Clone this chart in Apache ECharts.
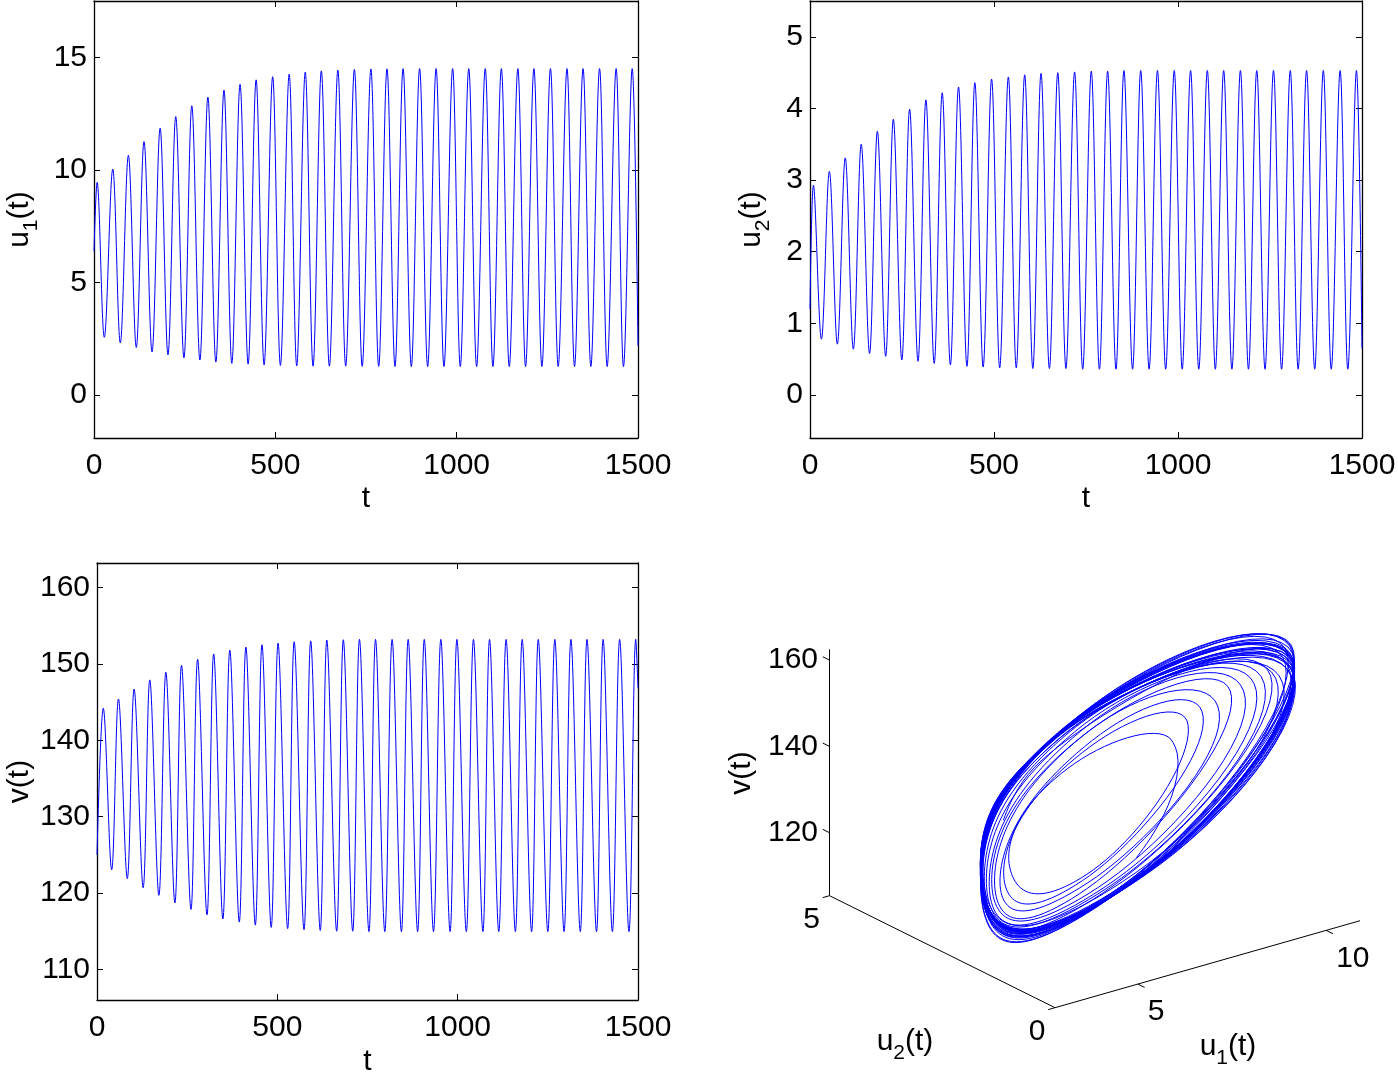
<!DOCTYPE html>
<html><head><meta charset="utf-8">
<script src="https://cdn.jsdelivr.net/npm/echarts@6/dist/echarts.min.js"></script>
<style>html,body{margin:0;padding:0;background:#fff}#c{width:1398px;height:1072px}</style>
</head><body><div id="c"></div>
<script>
// ---------- data ----------
const tTicks = [0, 500, 1000, 1500];
const u1Ticks = [0, 5, 10, 15];
const u2Ticks = [0, 1, 2, 3, 4, 5];
const vTicks = [110, 120, 130, 140, 150, 160];

// u1(t)
const u1Start = [0, 6.4];
const u1End = [1500, 2.2];
const u1PeakT = [8.6,51.7,94.8,137.9,182.3,225.4,269.7,314,358.4,402.7,447,492.6,538.2,582.5,626.8,672.4,718,763.5,807.9,852.2,897.8,943.3,988.9,1033.3,1078.8,1123.2,1168.7,1213,1258.6,1304.2,1348.5,1394,1439.7,1484];
const u1PeakV = [9.45,10.04,10.65,11.26,11.85,12.37,12.85,13.23,13.54,13.8,14.0,14.14,14.25,14.34,14.4,14.43,14.46,14.48,14.49,14.5,14.5,14.5,14.5,14.5,14.5,14.5,14.5,14.5,14.5,14.5,14.5,14.5,14.5,14.5];
const u1TroughT = [28.4,72.5,116.6,160,204,248,292,336,380,425,469,514,559,604,649,694,739.5,785,830,875,920,965,1010,1055,1100,1145,1190,1235,1280,1325,1370,1415,1460];
const u1TroughV = [2.57,2.32,2.12,1.92,1.79,1.66,1.56,1.47,1.41,1.38,1.35,1.32,1.3,1.29,1.29,1.29,1.28,1.28,1.27,1.27,1.27,1.27,1.27,1.27,1.27,1.27,1.27,1.27,1.27,1.27,1.27,1.27,1.27];

// u2(t)
const u2Start = [0, 1.2];
const u2End = [1500, 0.65];
const u2PeakT = [9.3,52.6,95.8,139.2,183.1,226.5,270.7,315,359.3,403.6,448,493.5,539,583.4,627.8,673.3,719,764.4,808.8,853.1,898.7,944.2,989.8,1034.2,1079.7,1124.1,1169.6,1214,1259.5,1305.1,1349.4,1394.9,1440.6,1484.9];
const u2PeakV = [2.93,3.12,3.31,3.5,3.68,3.85,3.99,4.12,4.22,4.3,4.36,4.41,4.44,4.47,4.49,4.5,4.51,4.52,4.52,4.53,4.53,4.53,4.53,4.53,4.53,4.53,4.53,4.53,4.53,4.53,4.53,4.53,4.53,4.53];
const u2TroughT = [31,74.3,117.8,161.8,205.6,249.5,293.5,337.5,381.5,426.5,470.5,515.5,560.5,605.5,650.5,695.5,741,786.5,831.5,876.5,921.5,966.5,1011.5,1056.5,1101.5,1146.5,1191.5,1236.5,1281.5,1326.5,1371.5,1416.5,1461.5];
const u2TroughV = [0.78,0.71,0.64,0.58,0.54,0.49,0.47,0.44,0.42,0.4,0.39,0.38,0.38,0.37,0.37,0.37,0.36,0.36,0.36,0.36,0.36,0.36,0.36,0.36,0.36,0.36,0.36,0.36,0.36,0.36,0.36,0.36,0.36];

// v(t)
const vStart = [0, 125];
const vEnd = [1500, 146.8];
const vPeakT = [17.4,59.5,102.9,146.3,190.9,234.3,278.9,323.5,368.2,412.8,457.4,502,546.7,592.5,637.2,683,727.7,772.3,818.2,862.8,907.4,953.3,997.9,1043.8,1088.4,1134.3,1178.9,1223.5,1269.4,1314,1358.6,1403.3,1449.1,1493.8];
const vPeakV = [144.2,145.4,146.7,147.9,148.9,149.8,150.6,151.3,151.8,152.2,152.5,152.7,152.9,153.0,153.1,153.15,153.2,153.2,153.2,153.2,153.2,153.2,153.2,153.2,153.2,153.2,153.2,153.2,153.2,153.2,153.2,153.2,153.2,153.2];
const vTroughT = [40.7,84,128,171.6,216,260.6,305,349,394.5,439,483,528.6,574,619,664.5,709,754,798,844,889,933,979,1024,1070,1114,1160,1205,1250,1295,1340,1385,1429,1475];
const vTroughV = [123.05,121.9,120.7,119.7,118.7,117.85,117.15,116.6,116.2,115.8,115.5,115.35,115.2,115.1,115.0,115.0,114.95,114.95,114.95,114.95,114.95,114.95,114.95,114.95,114.95,114.95,114.95,114.95,114.95,114.95,114.95,114.95,114.95];

// 3-D panel axis limits and ticks
const p3u1Lim = [2.8, 10.9];
const p3u2Lim = [0, 5];
const p3vLim = [105.4, 162.5];
const p3u1Ticks = [5, 10];
const p3u2Ticks = [0, 5];
const p3vTicks = [120, 140, 160];

// ---------- helpers ----------
function merge(start, pT, pV, tT, tV, end) {
  const pts = [start];
  pT.forEach((t, i) => pts.push([t, pV[i]]));
  tT.forEach((t, i) => pts.push([t, tV[i]]));
  pts.push(end);
  pts.sort((a, b) => a[0] - b[0]);
  return pts;
}
const u1Data = merge(u1Start, u1PeakT, u1PeakV, u1TroughT, u1TroughV, u1End);
const u2Data = merge(u2Start, u2PeakT, u2PeakV, u2TroughT, u2TroughV, u2End);
const vData = merge(vStart, vPeakT, vPeakV, vTroughT, vTroughV, vEnd);

// value of a series between its read extremes (for the phase portrait);
// logShape: sharp peaks / broad troughs as seen in the u panels
function at(pts, t, logShape) {
  let lo = 0, hi = pts.length - 1;
  while (hi - lo > 1) { const m = (lo + hi) >> 1; if (pts[m][0] <= t) lo = m; else hi = m; }
  const [t0, y0] = pts[lo], [t1, y1] = pts[hi];
  const s = Math.max(0, Math.min(1, (t - t0) / (t1 - t0)));
  const w = (1 - Math.cos(Math.PI * s)) / 2;
  if (logShape) return Math.exp(Math.log(y0) + (Math.log(y1) - Math.log(y0)) * w);
  return y0 + (y1 - y0) * w;
}

// oblique view of the 3-D axes box (screen vectors per data unit)
const VIEW = { ox: 1055, oy: 1007.7, e1: [37.66, -10.74], e2: [-45.1, -22.4], e3: [0, -4.315] };
function proj(a, b, c) {
  const da = a - p3u1Lim[0], db = b - p3u2Lim[0], dc = c - p3vLim[0];
  return [VIEW.ox + da * VIEW.e1[0] + db * VIEW.e2[0] + dc * VIEW.e3[0],
          VIEW.oy + da * VIEW.e1[1] + db * VIEW.e2[1] + dc * VIEW.e3[1]];
}

const orbit = [];
for (let t = 0; t <= 1500; t += 0.5) orbit.push(proj(at(u1Data, t, true), at(u2Data, t, true), at(vData, t, false)));

const FONT = 'Liberation Sans';
const FS = 30;
const rich = {
  a: { fontFamily: FONT, fontSize: 30, color: '#000', lineHeight: 44, verticalAlign: 'middle' },
  s: { fontFamily: FONT, fontSize: 21, color: '#000', lineHeight: 26, verticalAlign: 'bottom' }
};

function axis(kind, grid, pos, min, max, ticks, labels, name, nameGap, margin) {
  const o = {
    type: 'value', gridIndex: grid, position: pos, min: min, max: max,
    splitLine: { show: false },
    axisLine: { show: true, onZero: false, lineStyle: { color: '#000', width: 1.3 } },
    axisTick: { show: true, inside: true, length: 6, customValues: ticks, lineStyle: { color: '#000', width: 1 } },
    axisLabel: { show: labels, customValues: ticks, fontFamily: FONT, fontSize: FS, color: '#000',
                 margin: margin || (kind === 'x' ? 12 : 7), formatter: v => String(v) },
    name: name || '', nameLocation: 'middle', nameGap: nameGap || 0,
    nameTextStyle: { fontFamily: FONT, fontSize: 30, color: '#000', rich: rich }
  };
  if (kind === 'y' && name) o.nameRotate = 90;
  return o;
}

const xAxes = [
  axis('x', 0, 'bottom', 0, 1500, tTicks, true, '{a|t}', 39, 13),
  axis('x', 0, 'top', 0, 1500, tTicks, false),
  axis('x', 1, 'bottom', 0, 1500, tTicks, true, '{a|t}', 39, 13),
  axis('x', 1, 'top', 0, 1500, tTicks, false),
  axis('x', 2, 'bottom', 0, 1500, tTicks, true, '{a|t}', 40, 13),
  axis('x', 2, 'top', 0, 1500, tTicks, false),
  { type: 'value', gridIndex: 3, min: 700, max: 1398, show: false }
];
const yAxes = [
  axis('y', 0, 'left', -1.9, 17.5, u1Ticks, true, '{a|u}{s|1}{a|(t)}', 52),
  axis('y', 0, 'right', -1.9, 17.5, u1Ticks, false),
  axis('y', 1, 'left', -0.6, 5.5, u2Ticks, true, '{a|u}{s|2}{a|(t)}', 36),
  axis('y', 1, 'right', -0.6, 5.5, u2Ticks, false),
  axis('y', 2, 'left', 106, 163.2, vTicks, true, '{a|v(t)}', 55),
  axis('y', 2, 'right', 106, 163.2, vTicks, false),
  { type: 'value', gridIndex: 3, min: 540, max: 1072, inverse: true, show: false }
];

const blue = { color: '#0000ff', width: 1 };
function ts(xi, yi, data) {
  return { type: 'line', xAxisIndex: xi, yAxisIndex: yi, data: data, smooth: 0.36,
           symbol: 'none', lineStyle: blue, silent: true };
}
function seg(p, q) {
  return { type: 'line', xAxisIndex: 6, yAxisIndex: 6, data: [p, q], symbol: 'none',
           lineStyle: { color: '#000', width: 1 }, silent: true, clip: false, z: 1 };
}
function labels(pts, texts, pos, off, align) {
  const lab = { show: true, position: pos, offset: off, fontFamily: FONT, fontSize: FS, color: '#000',
                opacity: 1, textBorderWidth: 0, align: align };
  return { type: 'scatter', xAxisIndex: 6, yAxisIndex: 6, symbolSize: 1, silent: true, clip: false,
           itemStyle: { color: '#fff', opacity: 1 },
           data: pts.map((p, i) => ({ value: p, label: Object.assign({}, lab, { formatter: texts[i] }) })),
           label: lab, z: 0 };
}

const series3d = [];
series3d.push(seg(proj(p3u1Lim[0], p3u2Lim[1], p3vLim[0]), proj(p3u1Lim[0], p3u2Lim[1], p3vLim[1])));
series3d.push(seg(proj(p3u1Lim[0], p3u2Lim[1], p3vLim[0]), proj(p3u1Lim[0], p3u2Lim[0], p3vLim[0])));
series3d.push(seg(proj(p3u1Lim[0], p3u2Lim[0], p3vLim[0]), proj(p3u1Lim[1], p3u2Lim[0], p3vLim[0])));
p3vTicks.forEach(v => series3d.push(seg(proj(p3u1Lim[0], p3u2Lim[1], v), proj(p3u1Lim[0], p3u2Lim[1] + 0.15, v))));
p3u2Ticks.forEach(b => series3d.push(seg(proj(p3u1Lim[0], b, p3vLim[0]), proj(p3u1Lim[0] - 0.18, b, p3vLim[0]))));
p3u1Ticks.forEach(a => series3d.push(seg(proj(a, p3u2Lim[0], p3vLim[0]), proj(a, p3u2Lim[0] - 0.15, p3vLim[0]))));
series3d.push(labels(p3vTicks.map(v => proj(p3u1Lim[0], p3u2Lim[1], v)), p3vTicks.map(String), 'left', [-6, 0], 'right'));
series3d.push(labels(p3u2Ticks.map(b => proj(p3u1Lim[0], b, p3vLim[0])), p3u2Ticks.map(String), 'inside', [-18, 24], 'center'));
series3d.push(labels(p3u1Ticks.map(a => proj(a, p3u2Lim[0], p3vLim[0])), p3u1Ticks.map(String), 'inside', [10, 28], 'left'));
series3d.push({ type: 'line', xAxisIndex: 6, yAxisIndex: 6, data: orbit, symbol: 'none',
                lineStyle: { color: '#0000ff', width: 1 }, silent: true, z: 2 });

const chart = echarts.init(document.getElementById('c'), null, { renderer: 'canvas' });
chart.setOption({
  animation: false,
  backgroundColor: '#fff',
  grid: [
    { left: 94, top: 1, width: 544, height: 437, outerBoundsMode: 'none', containLabel: false },
    { left: 810, top: 1, width: 552, height: 437, outerBoundsMode: 'none', containLabel: false },
    { left: 97, top: 563, width: 541, height: 437, outerBoundsMode: 'none', containLabel: false },
    { left: 700, top: 540, width: 698, height: 532, outerBoundsMode: 'none', containLabel: false }
  ],
  xAxis: xAxes,
  yAxis: yAxes,
  series: [ts(0, 0, u1Data), ts(2, 2, u2Data), ts(4, 4, vData)].concat(series3d),
  graphic: [
    { type: 'text', x: 742, y: 773, rotation: Math.PI / 2,
      style: { text: '{a|v(t)}', rich: rich, align: 'center', verticalAlign: 'middle' } },
    { type: 'text', x: 905, y: 1042,
      style: { text: '{a|u}{s|2}{a|(t)}', rich: rich, align: 'center', verticalAlign: 'middle' } },
    { type: 'text', x: 1228, y: 1047,
      style: { text: '{a|u}{s|1}{a|(t)}', rich: rich, align: 'center', verticalAlign: 'middle' } }
  ]
});
</script></body></html>
